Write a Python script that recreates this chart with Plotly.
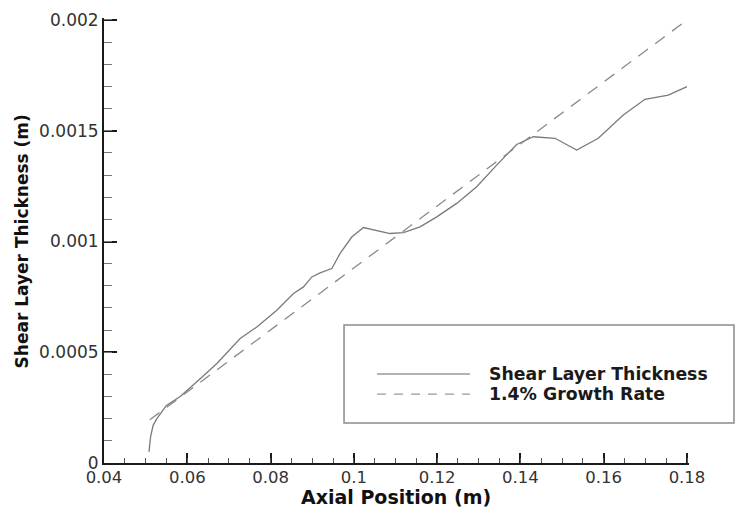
import plotly.graph_objects as go

# Data
x_thickness = [0.0508, 0.0512, 0.0518, 0.0527, 0.0550, 0.0583, 0.0631, 0.0671, 0.0727,
               0.0767, 0.0815, 0.0855, 0.0879, 0.0899, 0.0919, 0.0947, 0.0967, 0.0995,
               0.1023, 0.1055, 0.1087, 0.1119, 0.1159, 0.1199, 0.1247, 0.1295, 0.1343,
               0.1391, 0.1431, 0.1483, 0.1535, 0.1587, 0.1647, 0.1699, 0.1755, 0.1800]
y_thickness = [0.00005, 0.00012, 0.00017, 0.00020, 0.00026, 0.00030, 0.00038, 0.000449, 0.000562,
               0.000614, 0.00069, 0.000765, 0.000795, 0.00084, 0.000858, 0.000878, 0.000946, 0.00102,
               0.001063, 0.001048, 0.001036, 0.00104, 0.001066, 0.001111, 0.001172, 0.001247, 0.001345,
               0.001438, 0.001473, 0.001466, 0.001413, 0.001466, 0.001571, 0.001642, 0.001661, 0.001699]

x_growth = [0.0510, 0.1800]
y_growth = [0.000195, 0.0020]

# Axis ticks and their labels
x_ticks = [0.04, 0.06, 0.08, 0.10, 0.12, 0.14, 0.16, 0.18]
x_ticklabels = ["0.04", "0.06", "0.08", "0.1", "0.12", "0.14", "0.16", "0.18"]
y_ticks = [0, 0.0005, 0.001, 0.0015, 0.002]
y_ticklabels = ["0", "0.0005", "0.001", "0.0015", "0.002"]
x_minor_step = 0.005
y_minor_step = 0.0001

series_names = ["Shear Layer Thickness", "1.4% Growth Rate"]
x_title = "Axial Position (m)"
y_title = "Shear Layer Thickness (m)"

FONT = "DejaVu Sans"
AX = "#1a1a1a"

# ranges padded by ~2 px so the end ticks (0.18, 0.002) are drawn
x_range = [x_ticks[0], x_ticks[-1] + 0.00048]
y_range = [y_ticks[0], y_ticks[-1] + 0.000009]

fig = go.Figure()
fig.add_trace(go.Scatter(x=x_thickness, y=y_thickness, mode="lines", name=series_names[0],
                         line=dict(color="#7a7a7a", width=1.3), showlegend=False))
fig.add_trace(go.Scatter(x=x_growth, y=y_growth, mode="lines", name=series_names[1],
                         line=dict(color="#8a8a8a", width=1.3, dash="12px,9px"), showlegend=False))

# Legend box (drawn manually to match reference layout)
fig.add_shape(type="rect", xref="paper", yref="paper", x0=0.4103, x1=1.0769, y0=0.0899, y1=0.3101,
              line=dict(color="#8c8c8c", width=1.5), fillcolor="rgba(0,0,0,0)")
fig.add_shape(type="line", xref="paper", yref="paper", x0=0.4667, x1=0.6256, y0=0.2, y1=0.2,
              line=dict(color="#9a9a9a", width=1.6))
fig.add_shape(type="line", xref="paper", yref="paper", x0=0.4667, x1=0.6256, y0=0.155, y1=0.155,
              line=dict(color="#9a9a9a", width=1.3, dash="9px,8px"))
for name, yy in zip(series_names, [0.2, 0.155]):
    fig.add_annotation(x=0.6547, y=yy, xref="paper", yref="paper", text="<b>%s</b>" % name,
                       showarrow=False, xanchor="left", yanchor="middle",
                       font=dict(family=FONT, size=17.3, color="#1a1a1a"))

# Axis titles
fig.add_annotation(x=0.4983, y=-0.0755, xref="paper", yref="paper", text="<b>%s</b>" % x_title,
                   showarrow=False, xanchor="center", yanchor="middle",
                   font=dict(family=FONT, size=19, color="#111111"))
fig.add_annotation(x=-0.1402, y=0.4978, xref="paper", yref="paper", text="<b>%s</b>" % y_title,
                   showarrow=False, xanchor="center", yanchor="middle", textangle=-90,
                   font=dict(family=FONT, size=17, color="#111111"))

fig.update_layout(
    width=735, height=508,
    margin=dict(l=104, r=46, t=18, b=45),
    paper_bgcolor="white", plot_bgcolor="white",
    font=dict(family=FONT, color="#333333"),
    xaxis=dict(
        range=x_range, showgrid=False, zeroline=False, automargin=False,
        showline=True, linecolor=AX, linewidth=2,
        tickmode="array", tickvals=x_ticks, ticktext=x_ticklabels,
        ticks="inside", ticklen=10, tickwidth=2, tickcolor=AX,
        ticklabelstandoff=-2,
        tickfont=dict(family=FONT, size=16.5, color="#333333"),
    ),
    yaxis=dict(
        range=y_range, showgrid=False, zeroline=False, automargin=False,
        showline=True, linecolor=AX, linewidth=2,
        tickmode="array", tickvals=y_ticks, ticktext=y_ticklabels,
        ticks="inside", ticklen=13, tickwidth=2, tickcolor=AX,
        tickfont=dict(family=FONT, size=17, color="#333333"),
    ),
    # overlay axes carrying only the minor tick marks
    xaxis2=dict(
        overlaying="x", anchor="y", side="bottom", matches="x",
        showgrid=False, zeroline=False, showline=False, showticklabels=False, automargin=False,
        tickmode="linear", tick0=x_ticks[0], dtick=x_minor_step,
        ticks="inside", ticklen=5, tickwidth=1, tickcolor="#555555",
    ),
    yaxis2=dict(
        overlaying="y", anchor="x", side="left", matches="y",
        showgrid=False, zeroline=False, showline=False, showticklabels=False, automargin=False,
        tickmode="linear", tick0=y_ticks[0], dtick=y_minor_step,
        ticks="inside", ticklen=8, tickwidth=1, tickcolor="#777777",
    ),
)
# invisible carrier trace so the overlay axes are drawn
fig.add_trace(go.Scatter(x=x_growth, y=y_growth, xaxis="x2", yaxis="y2", mode="lines",
                         line=dict(width=0), opacity=0, hoverinfo="skip", showlegend=False))

fig.write_html("out.html")
